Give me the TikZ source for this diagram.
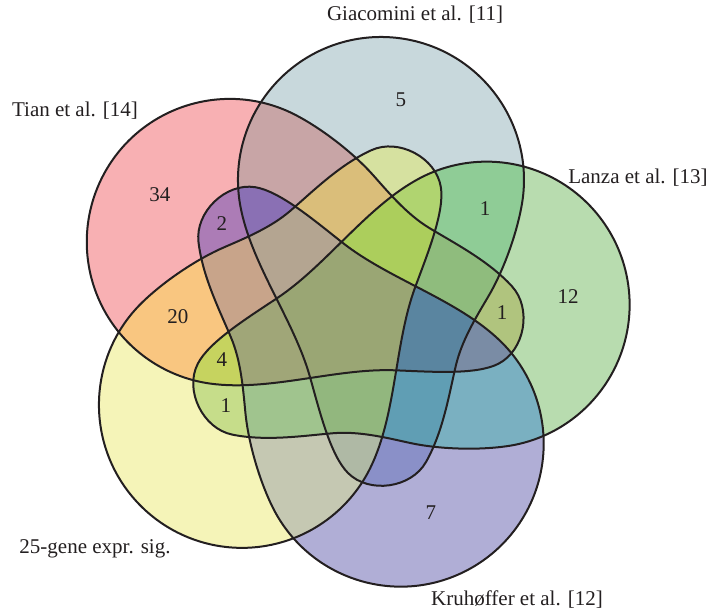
\documentclass[tikz,border=0pt]{standalone}
\usepackage{fontspec}
\usepackage{etoolbox}
\setmainfont{Liberation Serif}

\definecolor{inkcol}{RGB}{35,31,32}
% single sets
\definecolor{vT}{RGB}{248,176,179}
\definecolor{vG}{RGB}{200,216,220}
\definecolor{vL}{RGB}{184,220,175}
\definecolor{vK}{RGB}{176,174,214}
\definecolor{vY}{RGB}{245,244,184}
% pairs
\definecolor{vTG}{RGB}{200,165,166}
\definecolor{vGL}{RGB}{143,204,150}
\definecolor{vLK}{RGB}{122,176,193}
\definecolor{vKY}{RGB}{197,200,178}
\definecolor{vTY}{RGB}{249,198,128}
\definecolor{vTL}{RGB}{176,196,126}
\definecolor{vGK}{RGB}{138,144,200}
\definecolor{vLY}{RGB}{198,221,138}
\definecolor{vTK}{RGB}{172,124,182}
\definecolor{vGY}{RGB}{214,225,160}
% triples
\definecolor{vTGK}{RGB}{138,112,180}
\definecolor{vTGY}{RGB}{218,190,122}
\definecolor{vTGL}{RGB}{143,188,125}
\definecolor{vTLK}{RGB}{122,140,165}
\definecolor{vTLY}{RGB}{198,211,95}
\definecolor{vTKY}{RGB}{200,164,138}
\definecolor{vGLK}{RGB}{96,158,180}
\definecolor{vGLY}{RGB}{176,212,112}
\definecolor{vGKY}{RGB}{175,185,165}
\definecolor{vLKY}{RGB}{160,196,142}
% four and five
\definecolor{vTGLK}{RGB}{90,133,160}
\definecolor{vTGLY}{RGB}{172,206,92}
\definecolor{vTGKY}{RGB}{180,165,145}
\definecolor{vTLKY}{RGB}{160,166,120}
\definecolor{vGLKY}{RGB}{146,183,126}
\definecolor{vall}{RGB}{154,166,116}

\tikzset{
  vennline/.style={draw=inkcol, line width=1pt},
  setname/.style={font=\fontsize{10.5}{12}\selectfont, text=inkcol},
  count/.style={font=\fontsize{10.5}{12}\selectfont, text=inkcol},
}

\newcommand{\vennpath}{(173.8,110.2) arc[start angle=-10, end angle=190, radius=143]
  .. controls (-97.4,51.1) and (-54.2,-4.4) .. (-38,-62)
  .. controls (-28.5,-95.6) and (-17.7,-140.3) .. (0,-158)
  .. controls (21.2,-179.2) and (63.3,-173.1) .. (78,-147)
  .. controls (95.2,-116.6) and (101.1,-79.1) .. (108,-50)
  .. controls (113.8,-25.8) and (127.3,-3.5) .. (140,18)
  .. controls (155.3,43.8) and (168.6,80.6) .. (173.8,110.2) -- cycle}
\newcommand{\vennclip}[1]{\clip[rotate=#1] \vennpath;}
\newcommand{\vennregion}[2]{\begin{scope}\forcsvlist{\vennclip}{#1}
  \fill[#2] (-348,-297) rectangle (359,315);\end{scope}}

\begin{document}
\begin{tikzpicture}[x=0.5pt, y=0.5pt]
  \useasboundingbox (-348,-297) rectangle (359,315);

  \vennregion{72}{vT}
  \vennregion{0}{vG}
  \vennregion{-72}{vL}
  \vennregion{-144}{vK}
  \vennregion{-216}{vY}

  \vennregion{72,0}{vTG}
  \vennregion{0,-72}{vGL}
  \vennregion{-72,-144}{vLK}
  \vennregion{-144,-216}{vKY}
  \vennregion{72,-216}{vTY}
  \vennregion{72,-72}{vTL}
  \vennregion{0,-144}{vGK}
  \vennregion{-72,-216}{vLY}
  \vennregion{72,-144}{vTK}
  \vennregion{0,-216}{vGY}

  \vennregion{72,0,-144}{vTGK}
  \vennregion{72,0,-216}{vTGY}
  \vennregion{72,0,-72}{vTGL}
  \vennregion{72,-72,-144}{vTLK}
  \vennregion{72,-72,-216}{vTLY}
  \vennregion{72,-144,-216}{vTKY}
  \vennregion{0,-72,-144}{vGLK}
  \vennregion{0,-72,-216}{vGLY}
  \vennregion{0,-144,-216}{vGKY}
  \vennregion{-72,-144,-216}{vLKY}

  \vennregion{72,0,-72,-144}{vTGLK}
  \vennregion{72,0,-72,-216}{vTGLY}
  \vennregion{72,0,-144,-216}{vTGKY}
  \vennregion{72,-72,-144,-216}{vTLKY}
  \vennregion{0,-72,-144,-216}{vGLKY}
  \vennregion{72,0,-72,-144,-216}{vall}

  \foreach \ang in {72,0,-72,-144,-216}
    \draw[vennline, rotate=\ang] \vennpath;

  \node[setname] (giac) at (67,300) {Giacomini et al. [11]};
  \node[setname] (tian) at (-273,204) {Tian et al. [14]};
  \node[setname] (lanza) at (290,137) {Lanza et al. [13]};
  \node[setname] (gene) at (-253,-234) {25-gene expr. sig.};
  \node[setname] (kruh) at (169,-285) {Kruhøffer et al. [12]};

  \node[count] (t34) at (-188,120) {34};
  \node[count] (g5) at (53,215) {5};
  \node[count] (gl1) at (137,106) {1};
  \node[count] (l12) at (220,18) {12};
  \node[count] (tl1) at (154,2) {1};
  \node[count] (k7) at (83,-198) {7};
  \node[count] (tk2) at (-126,91) {2};
  \node[count] (ty20) at (-170,-2) {20};
  \node[count] (tly4) at (-126,-45) {4};
  \node[count] (ly1) at (-122,-91) {1};
\end{tikzpicture}
\end{document}
